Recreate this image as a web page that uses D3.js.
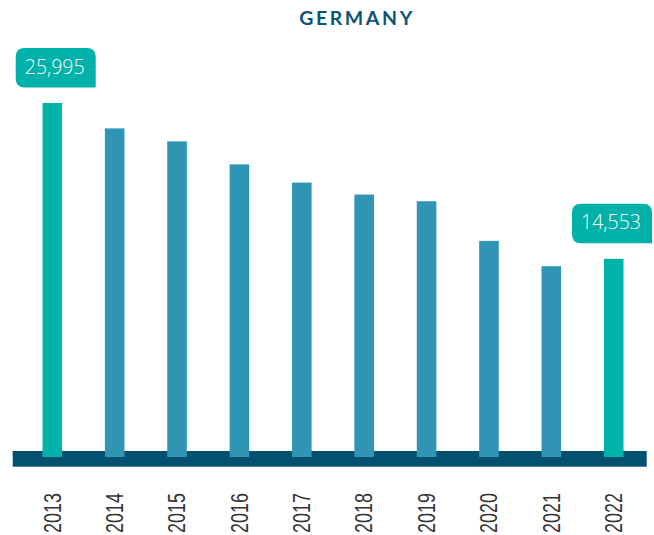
<!DOCTYPE html>
<html>
<head>
<meta charset="utf-8">
<script src="https://cdn.jsdelivr.net/npm/d3@7"></script>
<style>
  body { margin: 0; background: #fff; }
  svg { display: block; }
</style>
</head>
<body>
<svg id="chart" width="654" height="535"></svg>
<script>
const years = ['2013', '2014', '2015', '2016', '2017', '2018', '2019', '2020', '2021', '2022'];
const values = [25995, 24130, 23180, 21490, 20150, 19270, 18780, 15870, 14010, 14553];
const highlighted = ['2013', '2022'];

const w = 654;
const h = 535;
const teal = '#00b2a9';
const blue = '#3094b4';
const navy = '#04506f';

const svg = d3.select('#chart');

const x = d3.scaleBand()
    .domain(years)
    .range([42.5, 623.5])
    .paddingInner(0.686)
    .paddingOuter(0);

const y = d3.scaleLinear()
    .domain([0, 25995])
    .range([457, 103]);

// title
svg.append('text')
    .attr('x', 357)
    .attr('y', 25)
    .attr('text-anchor', 'middle')
    .attr('font-family', 'Lato, "Open Sans", sans-serif')
    .attr('font-weight', 'bold')
    .attr('font-size', 19.5)
    .attr('letter-spacing', '2.6px')
    .attr('fill', '#0d5272')
    .text('GERMANY');

// baseline band
svg.append('rect')
    .attr('x', 12.7)
    .attr('y', 451)
    .attr('width', 634)
    .attr('height', 15.7)
    .attr('fill', navy);

const data = years.map((yr, i) => ({year: yr, value: values[i]}));

svg.append('g')
    .selectAll('rect')
    .data(data)
    .join('rect')
    .attr('x', d => x(d.year))
    .attr('y', d => y(d.value))
    .attr('width', x.bandwidth())
    .attr('height', d => y(0) - y(d.value))
    .attr('fill', d => highlighted.includes(d.year) ? teal : blue);

// year labels, narrow look
svg.append('g')
    .selectAll('text')
    .data(years)
    .join('text')
    .attr('transform', d => `translate(${x(d) + x.bandwidth() / 2},533) rotate(-90) scale(0.78,1)`)
    .attr('dy', '0.36em')
    .attr('font-family', '"Liberation Sans", Arial, sans-serif')
    .attr('font-size', 23)
    .attr('fill', '#333')
    .text(d => d);

// callout boxes (square bottom-right corner)
const boxW = 80, boxH = 39.5, r = 9;
const boxPath = (bx, by) => {
    return `M${bx + r},${by} H${bx + boxW - r} Q${bx + boxW},${by} ${bx + boxW},${by + r} ` +
        `V${by + boxH} H${bx + r} Q${bx},${by + boxH} ${bx},${by + boxH - r} ` +
        `V${by + r} Q${bx},${by} ${bx + r},${by} Z`;
};

const callouts = data.filter(d => highlighted.includes(d.year));
const cg = svg.append('g')
    .selectAll('g')
    .data(callouts)
    .join('g')
    .attr('transform', d => {
        const cx = Math.min(x(d.year) + x.bandwidth() / 2 + 3.4, w - 2 - boxW / 2);
        return `translate(${cx - boxW / 2},${y(d.value) - 15.5 - boxH})`;
    });

cg.append('path')
    .attr('d', boxPath(0, 0))
    .attr('fill', teal);

cg.append('text')
    .attr('x', boxW / 2 - 1)
    .attr('y', 25.5)
    .attr('text-anchor', 'middle')
    .attr('font-family', '"Open Sans", Lato, sans-serif')
    .attr('font-weight', 300)
    .attr('font-size', 19.5)
    .attr('fill', '#fff')
    .text(d => d3.format(',')(d.value));
</script>
</body>
</html>
